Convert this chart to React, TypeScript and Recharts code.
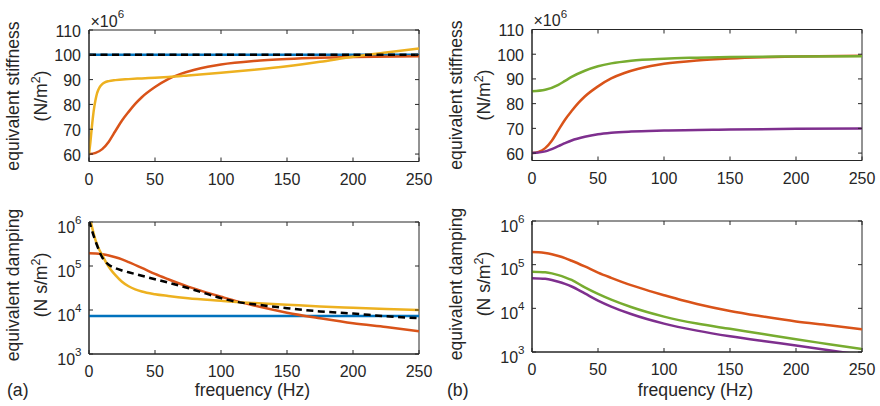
import React from 'react';
import { LineChart, Line, XAxis, YAxis, ReferenceArea, Customized } from 'recharts';

// ---------- data ----------
const FREQ_TICKS = [0, 50, 100, 150, 200, 250];
const STIFF_TICKS = [60, 70, 80, 90, 100, 110];
const DAMP_TICKS = [1e3, 1e4, 1e5, 1e6];

// stiffness (x 10^6 N/m^2)
const blueStiffF = [0, 250];
const blueStiffV = [100, 100];
const dashStiffF = [0, 250];
const dashStiffV = [100, 100];
const orangeStiffF = [0, 5, 10, 15, 20, 25, 30, 35, 40, 50, 60, 70, 80, 90, 100, 125, 150, 175, 200, 250];
const orangeStiffV = [60, 60.5, 62, 65, 69.3, 73.5, 77, 80.2, 82.9, 87, 90.2, 92.4, 94, 95.2, 96.1, 97.5, 98.3, 98.8, 99.1, 99.4];
const yellowStiffF = [0, 1, 2, 3, 4, 5, 6, 7, 8, 10, 12, 15, 20, 30, 40, 50, 60, 75, 100, 125, 150, 175, 200, 225, 250];
const yellowStiffV = [60, 64.5, 70, 75, 79, 82, 84.3, 85.8, 86.9, 88.2, 88.9, 89.4, 89.8, 90.2, 90.5, 90.8, 91.1, 91.7, 92.8, 94, 95.4, 97.2, 99.2, 100.9, 102.5];
const greenStiffF = [0, 10, 20, 25, 30, 40, 50, 60, 75, 100, 125, 150, 200, 250];
const greenStiffV = [85, 85.6, 87.6, 89.2, 90.8, 93.3, 95.1, 96.3, 97.4, 98.2, 98.6, 98.9, 99.1, 99.2];
const purpleStiffF = [0, 10, 20, 25, 30, 40, 50, 60, 75, 100, 150, 200, 250];
const purpleStiffV = [60, 60.7, 62.8, 64, 65.1, 66.6, 67.6, 68.2, 68.7, 69.1, 69.5, 69.8, 69.9];

// damping (N s/m^2)
const blueDampF = [0, 250];
const blueDampV = [7300, 7300];
const orangeDampF = [0, 5, 10, 15, 20, 25, 30, 40, 50, 60, 75, 90, 100, 113, 125, 150, 175, 200, 225, 250];
const orangeDampV = [195000, 193000, 186000, 174000, 158000, 141000, 123000, 91000, 66000, 50000, 33900, 24500, 20000, 15500, 12600, 8700, 6500, 5000, 4100, 3300];
const dashDampF = [0, 2, 4, 6, 8, 10, 12, 15, 20, 25, 30, 40, 50, 60, 75, 90, 100, 113, 125, 150, 175, 200, 225, 250];
const dashDampV = [1100000, 680000, 440000, 300000, 210000, 158000, 129000, 107000, 89000, 79000, 72000, 60000, 50000, 42000, 31600, 22900, 18600, 15100, 13500, 11000, 9300, 8300, 7200, 6500];
const yellowDampF = [0, 1.5, 3, 5, 7, 9, 11, 13, 16, 20, 25, 30, 35, 40, 50, 60, 75, 100, 113, 125, 150, 175, 200, 225, 250];
const yellowDampV = [2240000, 1000000, 630000, 380000, 263000, 200000, 155000, 120000, 87000, 62000, 44000, 34700, 29500, 26300, 22900, 20900, 18600, 16200, 15100, 14500, 13200, 12000, 11200, 10500, 10000];
const greenDampF = [0, 10, 15, 20, 25, 30, 40, 50, 60, 75, 100, 125, 150, 175, 200, 225, 250];
const greenDampV = [69200, 66800, 63100, 57500, 51300, 44700, 30200, 21400, 15800, 10700, 6460, 4470, 3390, 2570, 1950, 1510, 1170];
const purpleDampF = [0, 10, 15, 20, 25, 30, 40, 50, 60, 75, 100, 125, 150, 175, 200, 225, 250];
const purpleDampV = [49000, 47300, 44700, 40700, 36300, 31600, 21900, 15100, 11000, 7410, 4470, 3090, 2290, 1780, 1410, 1100, 850];

// ---------- styling ----------
const FONT = "'Liberation Sans', Arial, Helvetica, sans-serif";
const INK = '#262626';
const BLUE = '#0072BD';
const ORANGE = '#D95319';
const YELLOW = '#EDB120';
const PURPLE = '#7E2F8E';
const GREEN = '#77AC30';

const zip = (f: number[], v: number[]) => f.map((x, i) => ({ f: x, v: v[i] }));

type Series = { f: number[]; v: number[]; color: string; dash?: boolean };
type Box = { left: number; right: number; top: number; bottom: number };

const W = 880;
const H = 406;
const YW = 60;
const XH = 30;
const TL = 4; // inward tick length

function Panel(props: {
  box: Box;
  log: boolean;
  series: Series[];
  title1: string;
  title2a: string;
  title2b: string;
  labelCenter: number;
  showX10?: boolean;
  showXLabel?: boolean;
  tag?: string;
  tagX?: number;
}) {
  const { box, log, series, title1, title2a, title2b, labelCenter, showX10, showXLabel, tag, tagX } = props;
  const margin = {
    top: box.top,
    right: W - box.right,
    bottom: H - box.bottom - XH,
    left: box.left - YW,
  };
  const yDomain: [number, number] = log ? [1e3, 1e6] : [57, 110];
  const yTicks = log ? DAMP_TICKS : STIFF_TICKS;
  const x1 = box.left - 70.5;
  const x2 = box.left - 42.5;
  const cx = (box.left + box.right) / 2;

  const xTick = (p: any) => {
    const { x, payload } = p;
    return (
      <g>
        <line x1={x} y1={box.bottom} x2={x} y2={box.bottom - TL} stroke={INK} strokeWidth={1} />
        <line x1={x} y1={box.top} x2={x} y2={box.top + TL} stroke={INK} strokeWidth={1} />
        <text x={x} y={box.bottom + 23} textAnchor="middle" fontSize={16} fill={INK} fontFamily={FONT}>
          {payload.value}
        </text>
      </g>
    );
  };

  const yTick = (p: any) => {
    const { y, payload } = p;
    const exp = Math.round(Math.log10(payload.value));
    return (
      <g>
        <line x1={box.left} y1={y} x2={box.left + TL} y2={y} stroke={INK} strokeWidth={1} />
        <line x1={box.right} y1={y} x2={box.right - TL} y2={y} stroke={INK} strokeWidth={1} />
        {log ? (
          <text x={box.left - 7.5} y={y + 10.5} textAnchor="end" fontSize={16} fill={INK} fontFamily={FONT}>
            10
            <tspan dy={-8.4} fontSize={11.6}>
              {exp}
            </tspan>
          </text>
        ) : (
          <text x={box.left - 8} y={y + 6.5} textAnchor="end" fontSize={16} fill={INK} fontFamily={FONT}>
            {payload.value}
          </text>
        )}
      </g>
    );
  };

  const overlay = () => (
    <g fontFamily={FONT} fill={INK}>
      <text
        x={x1}
        y={labelCenter}
        transform={`rotate(-90, ${x1}, ${labelCenter})`}
        textAnchor="middle"
        fontSize={17.6}
      >
        {title1}
      </text>
      <text
        x={x2}
        y={labelCenter}
        transform={`rotate(-90, ${x2}, ${labelCenter})`}
        textAnchor="middle"
        fontSize={17.6}
      >
        {title2a}
        <tspan dy={-7} fontSize={12.5}>
          2
        </tspan>
        <tspan dy={7}>{title2b}</tspan>
      </text>
      {showX10 && (
        <text x={box.left + 1.5} y={box.top - 3.3} fontSize={16}>
          {'\u00D710'}
          <tspan dy={-8.4} fontSize={11.6}>
            6
          </tspan>
        </text>
      )}
      {showXLabel && (
        <text x={cx - 1.5} y={396} textAnchor="middle" fontSize={17.6}>
          frequency (Hz)
        </text>
      )}
      {tag && (
        <text x={tagX} y={396} fontSize={17.6}>
          {tag}
        </text>
      )}
    </g>
  );

  return (
    <LineChart width={W} height={H} margin={margin} style={{ position: 'absolute', left: 0, top: 0 }}>
      <XAxis
        xAxisId="b"
        dataKey="f"
        type="number"
        domain={[0, 250]}
        ticks={FREQ_TICKS}
        interval={0}
        allowDataOverflow
        height={XH}
        axisLine={{ stroke: INK, strokeWidth: 1 }}
        tickLine={false}
        tickSize={0}
        tickMargin={0}
        tick={xTick}
      />
      <YAxis
        yAxisId="l"
        type="number"
        scale={log ? 'log' : 'linear'}
        domain={yDomain}
        ticks={yTicks}
        interval={0}
        allowDataOverflow
        width={YW}
        axisLine={{ stroke: INK, strokeWidth: 1 }}
        tickLine={false}
        tickSize={0}
        tickMargin={0}
        tick={yTick}
      />
      <ReferenceArea
        xAxisId="b"
        yAxisId="l"
        x1={0}
        x2={250}
        y1={yDomain[0]}
        y2={yDomain[1]}
        fill="none"
        fillOpacity={0}
        stroke={INK}
        strokeWidth={1}
        ifOverflow="visible"
      />
      {series.map((s, i) => (
        <Line
          key={i}
          xAxisId="b"
          yAxisId="l"
          data={zip(s.f, s.v)}
          dataKey="v"
          type="monotone"
          stroke={s.color}
          strokeWidth={2.5}
          strokeDasharray={s.dash ? '7 4.5' : undefined}
          dot={false}
          activeDot={false}
          isAnimationActive={false}
        />
      ))}
      <Customized component={overlay} />
    </LineChart>
  );
}

export default function App() {
  return (
    <div style={{ position: 'absolute', left: 0, top: 0, width: W, height: H, background: '#fff' }}>
      <Panel
        box={{ left: 89, right: 419, top: 30, bottom: 161.5 }}
        log={false}
        series={[
          { f: blueStiffF, v: blueStiffV, color: BLUE },
          { f: orangeStiffF, v: orangeStiffV, color: ORANGE },
          { f: yellowStiffF, v: yellowStiffV, color: YELLOW },
          { f: dashStiffF, v: dashStiffV, color: '#000', dash: true },
        ]}
        title1="equivalent stiffness"
        title2a="(N/m"
        title2b=")"
        labelCenter={96}
        showX10
      />
      <Panel
        box={{ left: 89, right: 419, top: 222, bottom: 354 }}
        log
        series={[
          { f: blueDampF, v: blueDampV, color: BLUE },
          { f: orangeDampF, v: orangeDampV, color: ORANGE },
          { f: yellowDampF, v: yellowDampV, color: YELLOW },
          { f: dashDampF, v: dashDampV, color: '#000', dash: true },
        ]}
        title1="equivalent damping"
        title2a="(N s/m"
        title2b=")"
        labelCenter={285}
        showXLabel
        tag="(a)"
        tagX={7}
      />
      <Panel
        box={{ left: 532, right: 862, top: 29.5, bottom: 160.5 }}
        log={false}
        series={[
          { f: orangeStiffF, v: orangeStiffV, color: ORANGE },
          { f: purpleStiffF, v: purpleStiffV, color: PURPLE },
          { f: greenStiffF, v: greenStiffV, color: GREEN },
        ]}
        title1="equivalent stiffness"
        title2a="(N/m"
        title2b=")"
        labelCenter={95}
        showX10
      />
      <Panel
        box={{ left: 532, right: 862, top: 221, bottom: 352 }}
        log
        series={[
          { f: orangeDampF, v: orangeDampV, color: ORANGE },
          { f: purpleDampF, v: purpleDampV, color: PURPLE },
          { f: greenDampF, v: greenDampV, color: GREEN },
        ]}
        title1="equivalent damping"
        title2a="(N s/m"
        title2b=")"
        labelCenter={284}
        showXLabel
        tag="(b)"
        tagX={447}
      />
    </div>
  );
}
